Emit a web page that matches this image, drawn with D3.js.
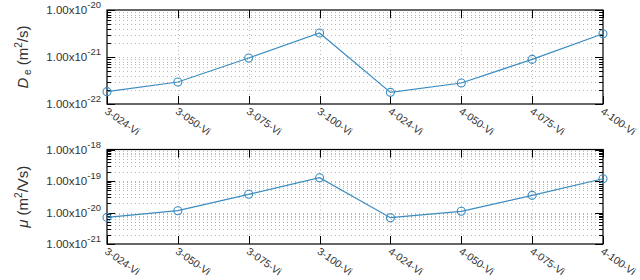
<!DOCTYPE html>
<html><head><meta charset="utf-8">
<script src="https://cdn.jsdelivr.net/npm/d3@7"></script>
<style>body{margin:0;background:#fff}svg{display:block}text{font-family:"Liberation Sans",Arial,sans-serif}</style>
</head><body><svg id="c" width="640" height="280"></svg>
<script>
const categories = ["3-024-Vi","3-050-Vi","3-075-Vi","3-100-Vi","4-024-Vi","4-050-Vi","4-075-Vi","4-100-Vi"];
const deValues = [1.83e-22, 2.94e-22, 9.5e-22, 3.24e-21, 1.77e-22, 2.8e-22, 8.9e-22, 3.13e-21];
const muValues = [7.0e-21, 1.14e-20, 3.78e-20, 1.27e-19, 6.84e-21, 1.09e-20, 3.5e-20, 1.18e-19];
const deExps = [-22, -21, -20];
const muExps = [-21, -20, -19, -18];

const svg = d3.select("#c");
const left = 107, right = 603;
const color = "#3a8cc0";
const x = d3.scalePoint().domain(categories).range([left, right]);

function panel(top, bottom, values, exps, labelFn) {
  const y = d3.scaleLog().domain([Math.pow(10, exps[0]), Math.pow(10, exps[exps.length-1])]).range([bottom, top]);
  const g = svg.append("g");
  const minors = [];
  for (let i = 0; i < exps.length - 1; i++) for (let k = 2; k <= 9; k++) minors.push(k * Math.pow(10, exps[i]));
  const majors = exps.map(e => Math.pow(10, e));
  g.selectAll(".hg").data(minors.concat(majors.slice(1, -1))).enter().append("line")
    .attr("x1", left).attr("x2", right).attr("y1", d => Math.round(y(d)) + 0.5).attr("y2", d => Math.round(y(d)) + 0.5)
    .attr("stroke", "#b8b8b8").attr("stroke-width", 1).attr("stroke-dasharray", "1,3");
  g.selectAll(".vg").data(categories.slice(1, -1)).enter().append("line")
    .attr("x1", d => Math.round(x(d)) + 0.5).attr("x2", d => Math.round(x(d)) + 0.5).attr("y1", top).attr("y2", bottom)
    .attr("stroke", "#b8b8b8").attr("stroke-dasharray", "1,3");
  const tk = (val, len) => {
    const yy = Math.round(y(val)) + 0.5;
    g.append("line").attr("x1", left).attr("x2", left + len).attr("y1", yy).attr("y2", yy).attr("stroke", "#000");
    g.append("line").attr("x1", right).attr("x2", right - len).attr("y1", yy).attr("y2", yy).attr("stroke", "#000");
  };
  minors.forEach(v => tk(v, 4));
  majors.forEach(v => tk(v, 8));
  categories.forEach(c => {
    const xx = Math.round(x(c)) + 0.5;
    g.append("line").attr("x1", xx).attr("x2", xx).attr("y1", top).attr("y2", top + 8).attr("stroke", "#000");
    g.append("line").attr("x1", xx).attr("x2", xx).attr("y1", bottom).attr("y2", bottom - 8).attr("stroke", "#000");
  });
  g.append("rect").attr("x", left).attr("y", top).attr("width", right - left).attr("height", bottom - top)
    .attr("fill", "none").attr("stroke", "#000").attr("stroke-width", 1.2);
  exps.forEach(e => {
    const t = g.append("text").attr("x", 101).attr("y", y(Math.pow(10, e)) + 4).attr("text-anchor", "end")
      .attr("font-size", 11.5).attr("fill", "#333");
    t.append("tspan").text("1.00x10");
    t.append("tspan").attr("dy", -6).attr("font-size", 9.5).text(e);
  });
  categories.forEach(c => {
    g.append("text").attr("transform", `translate(${x(c)-3},${bottom + 9}) rotate(35)`)
      .attr("font-size", 10.5).attr("fill", "#333").text(c);
  });
  const line = d3.line().x((d, i) => x(categories[i])).y(d => y(d));
  g.append("path").datum(values).attr("d", line).attr("fill", "none").attr("stroke", color).attr("stroke-width", 1.2);
  g.selectAll(".pt").data(values).enter().append("circle")
    .attr("cx", (d, i) => x(categories[i])).attr("cy", d => y(d)).attr("r", 4)
    .attr("fill", "none").attr("stroke", color).attr("stroke-width", 1.1);
  const cy = (top + bottom) / 2;
  const t = g.append("text").attr("transform", `translate(28,${cy}) rotate(-90)`).attr("text-anchor", "middle")
    .attr("font-size", 15).attr("fill", "#333");
  labelFn(t);
}

panel(10, 104, deValues, deExps, t => {
  t.append("tspan").attr("font-style", "italic").text("D");
  t.append("tspan").attr("font-size", 10).attr("dy", 3).text(" e");
  t.append("tspan").attr("dy", -3).text(" (m");
  t.append("tspan").attr("font-size", 10).attr("dy", -6).text("2");
  t.append("tspan").attr("dy", 6).text("/s)");
});
panel(149.5, 244, muValues, muExps, t => {
  t.append("tspan").attr("font-style", "italic").text("μ");
  t.append("tspan").text(" (m");
  t.append("tspan").attr("font-size", 10).attr("dy", -6).text("2");
  t.append("tspan").attr("dy", 6).text("/Vs)");
});
</script></body></html>
